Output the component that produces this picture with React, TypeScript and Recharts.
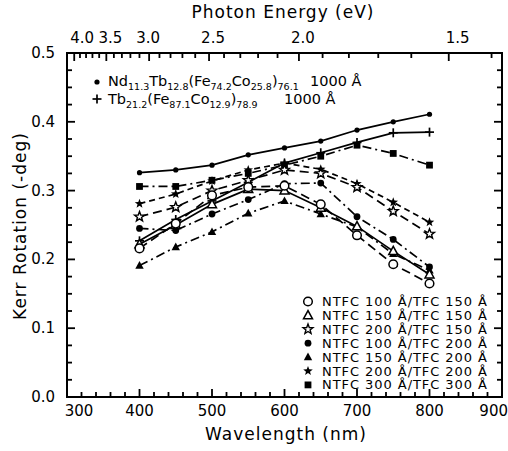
import React from 'react';
import { LineChart, Line, XAxis, YAxis, ReferenceLine } from 'recharts';

// ---- data ----
const wavelengths = [400, 450, 500, 550, 600, 650, 700, 750, 800];

const ndTbValues = [0.326, 0.330, 0.337, 0.352, 0.362, 0.372, 0.388, 0.400, 0.411];
const tbValues = [0.227, 0.258, 0.285, 0.312, 0.340, 0.355, 0.370, 0.384, 0.385];
const n100t150 = [0.216, 0.252, 0.293, 0.305, 0.307, 0.280, 0.235, 0.193, 0.165];
const n150t150 = [0.222, 0.250, 0.280, 0.302, 0.300, 0.275, 0.248, 0.212, 0.178];
const n200t150 = [0.262, 0.276, 0.300, 0.315, 0.330, 0.325, 0.305, 0.270, 0.237];
const n100t200 = [0.245, 0.242, 0.266, 0.287, 0.310, 0.311, 0.262, 0.229, 0.189];
const n150t200 = [0.191, 0.218, 0.240, 0.267, 0.285, 0.266, 0.247, 0.208, 0.184];
const n200t200 = [0.281, 0.295, 0.314, 0.330, 0.340, 0.331, 0.310, 0.283, 0.254];
const n300t300 = [0.306, 0.306, 0.315, 0.325, 0.337, 0.350, 0.366, 0.354, 0.337];

const kerrLabels = ['0.0', '0.1', '0.2', '0.3', '0.4', '0.5'];
const energyLabels = [4.0, 3.5, 3.0, 2.5, 2.0, 1.5];
const energyMinor = [4.0, 3.9, 3.8, 3.7, 3.6, 3.5, 3.4, 3.3, 3.2, 3.1, 3.0, 2.9, 2.8, 2.7, 2.6, 2.5, 2.4, 2.3, 2.2, 2.1, 2.0, 1.9, 1.8, 1.7, 1.6, 1.5, 1.4];

const legendRows = [
  { shape: 'openCircle', text: 'NTFC 100 Å/TFC 150 Å' },
  { shape: 'openTriangle', text: 'NTFC 150 Å/TFC 150 Å' },
  { shape: 'openStar', text: 'NTFC 200 Å/TFC 150 Å' },
  { shape: 'filledCircle', text: 'NTFC 100 Å/TFC 200 Å' },
  { shape: 'filledTriangle', text: 'NTFC 150 Å/TFC 200 Å' },
  { shape: 'filledStar', text: 'NTFC 200 Å/TFC 200 Å' },
  { shape: 'filledSquare', text: 'NTFC 300 Å/TFC 300 Å' },
];

const FONT = '"DejaVu Sans", sans-serif';
const DASH = '9 5';
const SHORTDASH = '6 4';
const DASHDOT = '9 4 2 4';

const series = [
  { key: 'ndTb', values: ndTbValues, shape: 'smallDot', dash: undefined as string | undefined },
  { key: 'tb', values: tbValues, shape: 'plus', dash: undefined },
  { key: 'n300t300', values: n300t300, shape: 'filledSquare', dash: DASHDOT },
  { key: 'n200t200', values: n200t200, shape: 'filledStar', dash: SHORTDASH },
  { key: 'n200t150', values: n200t150, shape: 'openStar', dash: DASH },
  { key: 'n100t200', values: n100t200, shape: 'filledCircle', dash: DASHDOT },
  { key: 'n150t200', values: n150t200, shape: 'filledTriangle', dash: DASHDOT },
  { key: 'n150t150', values: n150t150, shape: 'openTriangle', dash: undefined },
  { key: 'n100t150', values: n100t150, shape: 'openCircle', dash: DASH },
];

const data = wavelengths.map((wl, i) => {
  const row: Record<string, number> = { wl };
  series.forEach((s) => {
    row[s.key] = s.values[i];
  });
  return row;
});

const wlMinorTicks = Array.from({ length: 31 }, (_, i) => 300 + i * 20);
const kerrTicks = Array.from({ length: 21 }, (_, i) => Math.round(i * 25) / 1000);
const HC = 1239.84;
const energyTickPositions = energyMinor.map((e) => HC / e);
const energyLabelShift: Record<string, number> = { '4.0': 8, '3.5': 4, '3.0': -1, '2.5': 4, '2.0': 4, '1.5': 9 };

// plot frame (matches the chart margins + axis sizes below)
const FRAME = { left: 67, top: 53, right: 502, bottom: 397 };

// ---- markers ----
function starPoints(cx: number, cy: number, r: number) {
  const pts: string[] = [];
  for (let k = 0; k < 10; k++) {
    const rr = k % 2 === 0 ? r : r * 0.42;
    const a = -Math.PI / 2 + (k * Math.PI) / 5;
    pts.push(`${cx + rr * Math.cos(a)},${cy + rr * Math.sin(a)}`);
  }
  return pts.join(' ');
}

function Marker({ shape, cx, cy }: { shape: string; cx: number; cy: number }) {
  const k = '#000';
  switch (shape) {
    case 'smallDot':
      return <circle cx={cx} cy={cy} r={2.6} fill={k} />;
    case 'plus':
      return (
        <g stroke={k} strokeWidth={1.7}>
          <line x1={cx - 4.5} x2={cx + 4.5} y1={cy} y2={cy} />
          <line x1={cx} x2={cx} y1={cy - 4.5} y2={cy + 4.5} />
        </g>
      );
    case 'openCircle':
      return <circle cx={cx} cy={cy} r={4.3} fill="#fff" stroke={k} strokeWidth={1.5} />;
    case 'filledCircle':
      return <circle cx={cx} cy={cy} r={3.4} fill={k} />;
    case 'openTriangle':
      return <polygon points={`${cx},${cy - 4.8} ${cx - 4.5},${cy + 3.4} ${cx + 4.5},${cy + 3.4}`} fill="#fff" stroke={k} strokeWidth={1.5} />;
    case 'filledTriangle':
      return <polygon points={`${cx},${cy - 4.5} ${cx - 4.2},${cy + 3.2} ${cx + 4.2},${cy + 3.2}`} fill={k} />;
    case 'openStar':
      return <polygon points={starPoints(cx, cy, 5.2)} fill="#fff" stroke={k} strokeWidth={1.4} />;
    case 'filledStar':
      return <polygon points={starPoints(cx, cy, 5)} fill={k} />;
    case 'filledSquare':
      return <rect x={cx - 3.4} y={cy - 3.4} width={6.8} height={6.8} fill={k} />;
    default:
      return null;
  }
}

// ---- ticks ----
const BottomTick = (props: any) => {
  const { x, y, payload } = props;
  const v = payload.value as number;
  const major = v % 100 === 0;
  let anchor: 'middle' | 'start' | 'end' = 'middle';
  let tx = x;
  if (v === 300) tx = x + 12;
  if (v === 900) {
    anchor = 'end';
    tx = x + 6;
  }
  return (
    <g>
      <rect x={x - 0.9} y={y - (major ? 8 : 5)} width={1.8} height={major ? 8 : 5} fill="#000" />
      {major && (
        <text x={tx} y={y + 19} textAnchor={anchor} fontSize={15} fontFamily={FONT} fill="#000">
          {v}
        </text>
      )}
    </g>
  );
};

const TopTick = (props: any) => {
  const { x, y, payload } = props;
  const e = (HC / payload.value).toFixed(1);
  const major = energyLabels.some((m) => m.toFixed(1) === e);
  return (
    <g>
      <rect x={x - 0.9} y={y} width={1.8} height={major ? 8 : 5} fill="#000" />
      {major && (
        <text x={x + (energyLabelShift[e] || 0)} y={y - 10} textAnchor="middle" fontSize={15} fontFamily={FONT} fill="#000">
          {e}
        </text>
      )}
    </g>
  );
};

const LeftTick = (props: any) => {
  const { x, y, payload } = props;
  const v = payload.value as number;
  const m = Math.round(v * 1000);
  const major = m % 100 === 0;
  return (
    <g>
      <rect x={x} y={y - 0.9} width={major ? 8 : 5} height={1.8} fill="#000" />
      {major && (
        <text x={x - 12} y={y + 5} textAnchor="end" fontSize={15} fontFamily={FONT} fill="#000">
          {kerrLabels[m / 100]}
        </text>
      )}
    </g>
  );
};

const RightTick = (props: any) => {
  const { x, y, payload } = props;
  const m = Math.round((payload.value as number) * 1000);
  const major = m % 100 === 0;
  const len = major ? 8 : 5;
  return <rect x={x - len} y={y - 0.9} width={len} height={1.8} fill="#000" />;
};

function Overlay() {
  const legendX = 308;
  const legendY0 = 301.5;
  const legendStep = 13.9;
  return (
    <svg width={508} height={451} style={{ position: 'absolute', left: 0, top: 0, pointerEvents: 'none' }}>
      <rect
        x={FRAME.left}
        y={FRAME.top}
        width={FRAME.right - FRAME.left}
        height={FRAME.bottom - FRAME.top}
        fill="none"
        stroke="#000"
        strokeWidth={2}
      />
      <text x={283} y={18} textAnchor="middle" fontSize={17} letterSpacing={1} fontFamily={FONT} fill="#000">
        Photon Energy (eV)
      </text>
      <text x={286} y={440} textAnchor="middle" fontSize={17} letterSpacing={1} fontFamily={FONT} fill="#000">
        Wavelength (nm)
      </text>
      <text
        x={0}
        y={0}
        transform="translate(26,226) rotate(-90)"
        textAnchor="middle"
        fontSize={17}
        letterSpacing={1}
        fontFamily={FONT}
        fill="#000"
      >
        Kerr Rotation (-deg)
      </text>

      {/* top-left legend */}
      <Marker shape="smallDot" cx={97} cy={82} />
      <text x={108} y={86} fontSize={14.5} fontFamily={FONT} fill="#000">
        Nd<tspan fontSize={9.5} dy={4}>11.3</tspan>
        <tspan dy={-4}>Tb</tspan>
        <tspan fontSize={9.5} dy={4}>12.8</tspan>
        <tspan dy={-4}>(Fe</tspan>
        <tspan fontSize={9.5} dy={4}>74.2</tspan>
        <tspan dy={-4}>Co</tspan>
        <tspan fontSize={9.5} dy={4}>25.8</tspan>
        <tspan dy={-4}>)</tspan>
        <tspan fontSize={9.5} dy={4}>76.1</tspan>
      </text>
      <text x={310} y={86} fontSize={14.5} fontFamily={FONT} fill="#000">
        1000 Å
      </text>
      <Marker shape="plus" cx={97} cy={99} />
      <text x={108} y={104} fontSize={14.5} fontFamily={FONT} fill="#000">
        Tb<tspan fontSize={9.5} dy={4}>21.2</tspan>
        <tspan dy={-4}>(Fe</tspan>
        <tspan fontSize={9.5} dy={4}>87.1</tspan>
        <tspan dy={-4}>Co</tspan>
        <tspan fontSize={9.5} dy={4}>12.9</tspan>
        <tspan dy={-4}>)</tspan>
        <tspan fontSize={9.5} dy={4}>78.9</tspan>
      </text>
      <text x={284} y={104} fontSize={14.5} fontFamily={FONT} fill="#000">
        1000 Å
      </text>

      {/* bottom-right legend */}
      {legendRows.map((r, i) => {
        const cy = legendY0 + i * legendStep;
        return (
          <g key={r.text + i}>
            <Marker shape={r.shape} cx={legendX} cy={cy} />
            <text
              x={322}
              y={cy + 4.5}
              fontSize={13}
              fontFamily={FONT}
              fill="#000"
              textLength={165}
              lengthAdjust="spacing"
            >
              {r.text}
            </text>
          </g>
        );
      })}
    </svg>
  );
}

export default function App() {
  return (
    <div style={{ position: 'absolute', left: 0, top: 0, width: 508, height: 451 }}>
      <div style={{ position: 'absolute', left: 0, top: 0 }}>
        <LineChart width={508} height={451} data={data} margin={{ top: 23, right: 4, bottom: 14, left: 7 }}>
          <XAxis
            xAxisId="b"
            dataKey="wl"
            type="number"
            domain={[300, 900]}
            ticks={wlMinorTicks}
            interval={0}
            height={40}
            tickSize={0}
            tickMargin={0}
            tickLine={false}
            tick={BottomTick}
            axisLine={{ stroke: '#000', strokeWidth: 2 }}
          />
          <XAxis
            xAxisId="t"
            dataKey="wl"
            orientation="top"
            type="number"
            domain={[300, 900]}
            ticks={energyTickPositions}
            interval={0}
            height={30}
            tickSize={0}
            tickMargin={0}
            tickLine={false}
            tick={TopTick}
            axisLine={{ stroke: '#000', strokeWidth: 2 }}
          />
          <YAxis
            yAxisId="l"
            type="number"
            domain={[0, 0.5]}
            ticks={kerrTicks}
            interval={0}
            width={60}
            tickSize={0}
            tickMargin={0}
            tickLine={false}
            tick={LeftTick}
            axisLine={{ stroke: '#000', strokeWidth: 2 }}
          />
          <YAxis
            yAxisId="r"
            orientation="right"
            type="number"
            domain={[0, 0.5]}
            ticks={kerrTicks}
            interval={0}
            width={2}
            tickSize={0}
            tickMargin={0}
            tickLine={false}
            tick={RightTick}
            axisLine={{ stroke: '#000', strokeWidth: 2 }}
          />
          <ReferenceLine xAxisId="b" yAxisId="l" y={0.5} stroke="#000" strokeWidth={2} />
          <ReferenceLine xAxisId="b" yAxisId="l" x={900} stroke="#000" strokeWidth={2} />
          <Line
            xAxisId="t"
            yAxisId="r"
            dataKey="ndTb"
            stroke="none"
            dot={false}
            activeDot={false}
            isAnimationActive={false}
          />
          {series.map((s) => (
            <Line
              key={s.key}
              xAxisId="b"
              yAxisId="l"
              dataKey={s.key}
              type="linear"
              stroke="#000"
              strokeWidth={1.7}
              strokeDasharray={s.dash}
              isAnimationActive={false}
              activeDot={false}
              dot={(p: any) => <Marker key={`${s.key}-${p.index}`} shape={s.shape} cx={p.cx} cy={p.cy} />}
            />
          ))}
        </LineChart>
      </div>
      <Overlay />
    </div>
  );
}
